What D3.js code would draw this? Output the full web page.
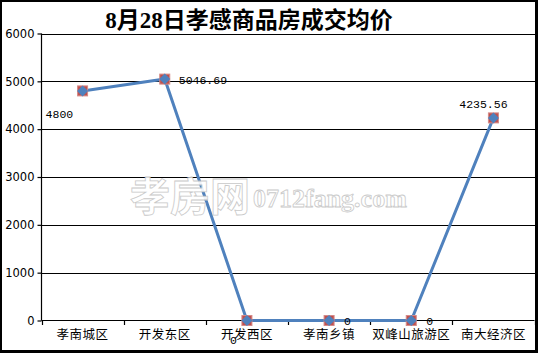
<!DOCTYPE html>
<html><head><meta charset="utf-8">
<script src="https://cdn.jsdelivr.net/npm/d3@7"></script>
<style>html,body{margin:0;padding:0;background:#fff;}svg{display:block;}</style>
</head><body>
<svg id="c" width="538" height="353"></svg>
<script>
const title = "8月28日孝感商品房成交均价";
const categories = ["孝南城区","开发东区","开发西区","孝南乡镇","双峰山旅游区","南大经济区"];
const values = [4800, 5046.69, 0, 0, 0, 4235.56];
const valueLabels = ["4800","5046.69","0","0","0","4235.56"];
const yTicks = [0,1000,2000,3000,4000,5000,6000];

// label placement (styling)
const labelOffsets = [[-37,27],[14,5],[-17,23],[15,4],[15,4],[-10,-10]];

const svg = d3.select("#c");
const W = 538, H = 353;
svg.append("rect").attr("x",0).attr("y",0).attr("width",W).attr("height",H).attr("fill","#fff");

const x = d3.scaleBand().domain(categories).range([41.5,534.5]).paddingInner(0).paddingOuter(0);
const y = d3.scaleLinear().domain([0,6000]).range([320.5,33.5]);

// gridlines
svg.append("g").selectAll("line").data(yTicks.filter(d=>d>0)).join("line")
  .attr("x1",41.5).attr("x2",535).attr("y1",d=>Math.round(y(d))+0.5).attr("y2",d=>Math.round(y(d))+0.5)
  .attr("stroke","#000").attr("stroke-width",1.2);

// y axis
const yAxis = d3.axisLeft(y).tickValues(yTicks).tickSize(4).tickPadding(3).tickFormat(d3.format("d"));
const gy = svg.append("g").attr("transform","translate(41.5,0)").call(yAxis);
gy.select(".domain").attr("stroke","#000").attr("stroke-width",1.2).attr("d","M0,33.5V320.5");
gy.selectAll(".tick line").attr("stroke","#000").attr("stroke-width",1.2);
gy.selectAll(".tick text").attr("font-family","'DejaVu Sans', sans-serif").attr("font-size","11.5px").attr("fill","#000");

// x axis
const xAxis = d3.axisBottom(x).tickSize(0).tickPadding(10);
const gx = svg.append("g").attr("transform","translate(0,320.5)").call(xAxis);
gx.select(".domain").attr("stroke","#000").attr("stroke-width",1.2).attr("d","M41.5,0H534.5");
gx.selectAll(".tick text").attr("font-family","'Noto Sans CJK SC', sans-serif").attr("font-size","12.5px").attr("fill","#000").attr("letter-spacing","0.5px");
// boundary ticks
const bounds = categories.map(c=>x(c)).concat([x.range()[1]]);
svg.append("g").selectAll("line").data(bounds).join("line")
  .attr("x1",d=>Math.round(d)+0.5).attr("x2",d=>Math.round(d)+0.5).attr("y1",320.5).attr("y2",325)
  .attr("stroke","#000").attr("stroke-width",1.2);

const cx = c => x(c) + x.bandwidth()/2;

// line
const line = d3.line().x((d,i)=>cx(categories[i])).y(d=>y(d));
svg.append("path").datum(values).attr("d",line).attr("fill","none")
  .attr("stroke","#4F81BD").attr("stroke-width",3).attr("stroke-linejoin","round");

// markers
const mk = svg.append("g").selectAll("g").data(values).join("g")
  .attr("transform",(d,i)=>`translate(${cx(categories[i])},${y(d)})`);
mk.append("rect").attr("x",-5).attr("y",-5).attr("width",10).attr("height",10)
  .attr("fill","#C0504D").attr("stroke","#D48A88").attr("stroke-width",1);
mk.append("path").attr("d","M0,-5.5L5.5,0L0,5.5L-5.5,0Z").attr("fill","#4F81BD");

// data labels
svg.append("g").selectAll("text").data(values).join("text")
  .attr("x",(d,i)=>cx(categories[i])+labelOffsets[i][0])
  .attr("y",(d,i)=>y(d)+labelOffsets[i][1])
  .attr("text-anchor",(d,i)=>i===5?"middle":"start")
  .attr("font-family","'Liberation Mono', monospace").attr("font-size","11.5px").attr("fill","#000")
  .text((d,i)=>valueLabels[i]);

// watermark
const wm = svg.append("g").attr("opacity",0.9);
wm.append("text").attr("x",130).attr("y",211).attr("font-family","'Noto Sans CJK SC', sans-serif")
  .attr("font-size","40px").attr("font-weight","bold").attr("fill","#fff").attr("stroke","#c4c4c4").attr("stroke-width",0.8)
  .text("孝房网");
wm.append("text").attr("x",253).attr("y",207).attr("font-family","'Liberation Serif', serif")
  .attr("font-size","26px").attr("font-weight","bold").attr("fill","#fff").attr("stroke","#c4c4c4").attr("stroke-width",0.8)
  .text("0712fang.com");

// title
svg.append("text").attr("x",249).attr("y",28).attr("text-anchor","middle")
  .attr("font-family","'Liberation Serif','Noto Sans CJK SC', serif").attr("font-size","23px").attr("font-weight","bold")
  .attr("fill","#000").text(title);

// border
svg.append("rect").attr("x",1).attr("y",1).attr("width",535).attr("height",350)
  .attr("fill","none").attr("stroke","#000").attr("stroke-width",2);
svg.append("path").attr("d","M537,0V353M0,352H538").attr("stroke","#000").attr("stroke-width",2);
</script>
</body></html>
